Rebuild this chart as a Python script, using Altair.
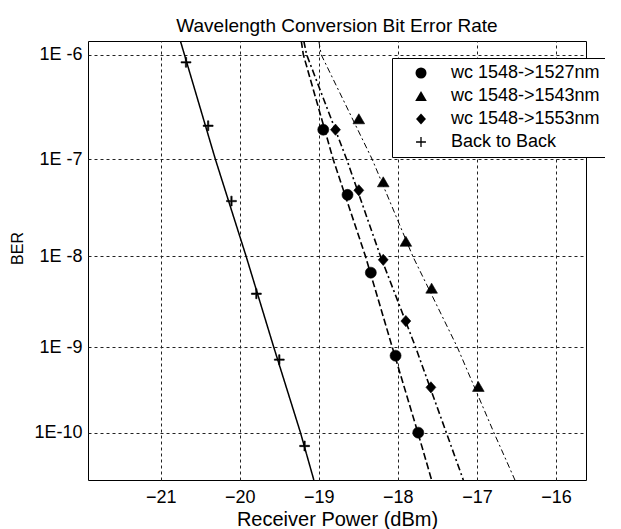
import math
import altair as alt
import pandas as pd

TITLE = "Wavelength Conversion Bit Error Rate"
X_TITLE = "Receiver Power (dBm)"
Y_TITLE = "BER"

X_DOMAIN = [-21.92, -15.62]
X_TICKS = [-21, -20, -19, -18, -17, -16]
Y_TOP_BER = 1.33e-6
Y_BOTTOM_BER = 2.64e-11
Y_TICKS_BER = [1e-6, 1e-7, 1e-8, 1e-9, 1e-10]
Y_TICK_LABELS = ["1E -6", "1E -7", "1E -8", "1E -9", "1E-10"]

SERIES = ["wc 1548->1527nm", "wc 1548->1543nm", "wc 1548->1553nm", "Back to Back"]
TRIANGLE = "M0,-0.91L1.06,0.91L-1.06,0.91Z"
DIAMOND = "M0,-1.02L0.9,0L0,1.02L-0.9,0Z"
PLUS = "M-0.9,-0.12H-0.12V-0.9H0.12V-0.12H0.9V0.12H0.12V0.9H-0.12V0.12H-0.9Z"
SHAPES = ["circle", TRIANGLE, DIAMOND, PLUS]

# measured points
wc1527_x = [-18.944, -18.637, -18.342, -18.029, -17.742]
wc1527_ber = [1.96e-7, 4.4e-8, 6.7e-9, 8.0e-10, 1.0e-10]
wc1543_x = [-18.494, -18.185, -17.899, -17.573, -16.982]
wc1543_ber = [2.5e-7, 5.97e-8, 1.45e-8, 4.55e-9, 3.53e-10]
wc1553_x = [-18.789, -18.494, -18.185, -17.899, -17.582]
wc1553_ber = [1.96e-7, 4.9e-8, 9.2e-9, 1.97e-9, 3.44e-10]
b2b_x = [-20.68, -20.40, -20.105, -19.79, -19.50, -19.18]
b2b_ber = [8.5e-7, 2.14e-7, 3.8e-8, 3.95e-9, 7.2e-10, 6.9e-11]

# fitted curves
fit1527_x = [-19.222, -19.196, -18.818, -18.409, -18.071, -17.747, -17.573]
fit1527_ber = [Y_TOP_BER, 1e-6, 1e-7, 1e-8, 1e-9, 1e-10, Y_BOTTOM_BER]
fit1543_x = [-19.0, -18.97, -18.324, -17.81, -17.248, -16.785, -16.519]
fit1543_ber = [Y_TOP_BER, 1e-6, 1e-7, 1e-8, 1e-9, 1e-10, Y_BOTTOM_BER]
fit1553_x = [-19.19, -19.154, -18.647, -18.219, -17.776, -17.387, -17.172]
fit1553_ber = [Y_TOP_BER, 1e-6, 1e-7, 1e-8, 1e-9, 1e-10, Y_BOTTOM_BER]
fitb2b_x = [-20.751, -20.70, -20.308, -19.919, -19.570, -19.232, -19.063]
fitb2b_ber = [Y_TOP_BER, 1e-6, 1e-7, 1e-8, 1e-9, 1e-10, Y_BOTTOM_BER]


def q_of(ber):
    lo, hi = 0.0, 12.0
    for _ in range(80):
        mid = (lo + hi) / 2
        if 0.5 * math.erfc(mid / math.sqrt(2)) > ber:
            lo = mid
        else:
            hi = mid
    return (lo + hi) / 2


pts = []
for name, xs, bs in [
    (SERIES[0], wc1527_x, wc1527_ber),
    (SERIES[1], wc1543_x, wc1543_ber),
    (SERIES[2], wc1553_x, wc1553_ber),
    (SERIES[3], b2b_x, b2b_ber),
]:
    for xv, bv in zip(xs, bs):
        pts.append({"series": name, "x": xv, "ber": bv, "q": q_of(bv)})
pts_df = pd.DataFrame(pts)


def fit_df(xs, bs):
    return pd.DataFrame({"x": xs, "ber": bs, "q": [q_of(b) for b in bs], "i": list(range(len(xs)))})


q_top = q_of(Y_TOP_BER)
q_bot = q_of(Y_BOTTOM_BER)
q_ticks = [q_of(b) for b in Y_TICKS_BER]

expr = "'" + Y_TICK_LABELS[-1] + "'"
for i in range(len(q_ticks) - 2, -1, -1):
    thr = (q_ticks[i] + q_ticks[i + 1]) / 2
    expr = f"datum.value < {thr:.4f} ? '{Y_TICK_LABELS[i]}' : ({expr})"

FONT = "Liberation Sans"

x_enc = alt.X(
    "x:Q",
    scale=alt.Scale(domain=X_DOMAIN, nice=False, zero=False),
    axis=alt.Axis(
        values=X_TICKS, format="d", title=X_TITLE, labelFontSize=18, titleFontSize=20,
        labelPadding=8, ticks=False, domain=False,
        grid=True, gridDash=[3, 3], gridColor="#222222", gridWidth=1,
        labelFont=FONT, titleFont=FONT, labelColor="black", titleColor="black",
        titleFontWeight="normal", titleY=45, titleBaseline="alphabetic",
    ),
)
y_enc = alt.Y(
    "q:Q",
    scale=alt.Scale(domain=[q_top, q_bot], reverse=True, nice=False, zero=False),
    axis=alt.Axis(
        values=q_ticks, labelExpr=expr, title=Y_TITLE, labelFontSize=18, titleFontSize=16,
        labelPadding=6, ticks=False, domain=False,
        grid=True, gridDash=[3, 3], gridColor="#222222", gridWidth=1,
        labelFont=FONT, titleFont=FONT, labelColor="black", titleColor="black",
        titleFontWeight="normal", titleX=-71, titleY=207, titleBaseline="middle",
    ),
)

line_specs = [
    (fit1527_x, fit1527_ber, [7, 3], 1.6),
    (fit1553_x, fit1553_ber, [7, 3, 2, 3], 1.6),
    (fit1543_x, fit1543_ber, [6, 3, 2, 3], 1.0),
    (fitb2b_x, fitb2b_ber, [1, 0], 1.5),
]
layers = []
for xs, bs, dash, w in line_specs:
    layers.append(
        alt.Chart(fit_df(xs, bs))
        .mark_line(color="black", strokeWidth=w, strokeDash=dash, clip=True)
        .encode(x=x_enc, y=y_enc, order="i:Q")
    )

points = (
    alt.Chart(pts_df)
    .mark_point(fill="black", stroke="black", fillOpacity=1, strokeOpacity=1, strokeWidth=0.6, size=121, opacity=1)
    .encode(
        x=x_enc,
        y=y_enc,
        shape=alt.Shape(
            "series:N",
            scale=alt.Scale(domain=SERIES, range=SHAPES),
            legend=alt.Legend(
                title=None, orient="none", legendX=304, legendY=17,
                fillColor="white", strokeColor="black", padding=6,
                labelFontSize=18, labelFont=FONT, labelColor="black",
                symbolSize=121, symbolFillColor="black", symbolStrokeColor="black",
                symbolStrokeWidth=0.6, symbolOpacity=1, symbolOffset=14,
                labelOffset=21, rowPadding=5, labelLimit=300,
            ),
        ),
    )
)
layers.append(points)

chart = (
    alt.layer(*layers)
    .properties(
        width=498, height=439,
        title=alt.TitleParams(TITLE, fontSize=19, font=FONT, fontWeight="normal", color="black",
                              baseline="alphabetic", offset=11, dy=21),
        autosize=alt.AutoSizeParams(type="none"),
        padding={"left": 80, "top": 33, "right": 19, "bottom": 49},
        background="white",
    )
    .configure_view(stroke="black", strokeWidth=1)
)

chart.save("out.html", embed_options={"renderer": "svg", "actions": False})
